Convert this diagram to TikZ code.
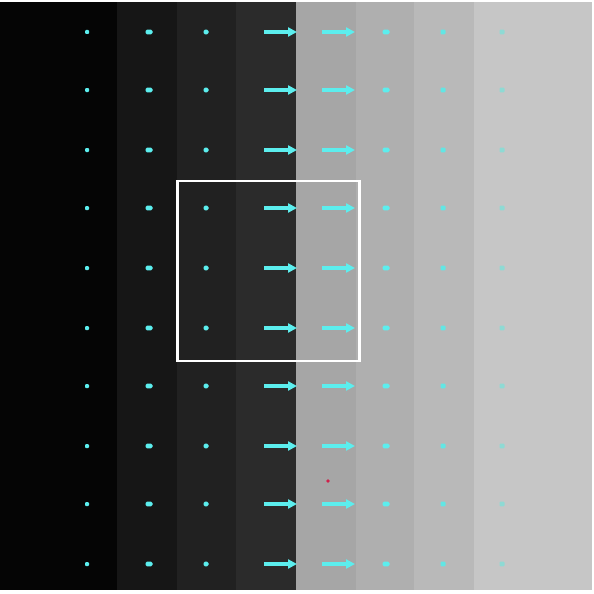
\documentclass[tikz,border=0pt]{standalone}
\usetikzlibrary{arrows.meta}
\definecolor{bA}{HTML}{050505}
\definecolor{bB}{HTML}{161616}
\definecolor{bC}{HTML}{212121}
\definecolor{bD}{HTML}{2B2B2B}
\definecolor{bE}{HTML}{A6A6A6}
\definecolor{bF}{HTML}{AFAFAF}
\definecolor{bG}{HTML}{B9B9B9}
\definecolor{bH}{HTML}{C6C6C6}
\definecolor{cy}{HTML}{5CEEEE}
\definecolor{cyB}{HTML}{62E6E4}
\definecolor{cyC}{HTML}{8EDAD4}
\definecolor{rd}{HTML}{D0204A}
\tikzset{
  vec/.style={cy, line width=3.5pt, -{Triangle[length=9pt,width=9pt]}},
}
\begin{document}
\begin{tikzpicture}[x=1pt,y=-1pt]
\useasboundingbox (0,0) rectangle (594,594);
\fill[white] (0,0) rectangle (594,594);
\fill[bA] (0,2) rectangle (117,590);
\fill[bB] (117,2) rectangle (177,590);
\fill[bC] (177,2) rectangle (236,590);
\fill[bD] (236,2) rectangle (296,590);
\fill[bE] (296,2) rectangle (356,590);
\fill[bF] (356,2) rectangle (414,590);
\fill[bG] (414,2) rectangle (474,590);
\fill[bH] (474,2) rectangle (592,590);
\foreach \y in {32,90,150,208,268,328,386,446,504,564}{
  \fill[cy, rounded corners=1pt] (85,\y-2) rectangle (89,\y+2);
  \fill[cy, rounded corners=1.5pt] (145.5,\y-2.3) rectangle (152.5,\y+2.3);
  \fill[cy, rounded corners=1.5pt] (203.5,\y-2.3) rectangle (208.5,\y+2.3);
  \draw[vec] (264,\y) -- (297,\y);
  \draw[vec] (322,\y) -- (355,\y);
  \fill[cy, rounded corners=1.5pt] (382.5,\y-2.3) rectangle (389.5,\y+2.3);
  \fill[cyB, rounded corners=1pt] (440.5,\y-2.3) rectangle (445.5,\y+2.3);
  \fill[cyC, rounded corners=1pt] (499.5,\y-2.3) rectangle (504.5,\y+2.3);
}
\draw[white, line width=2.5pt] (177.5,181) rectangle (359.5,361);
\fill[rd] (328,481) circle (1.8);
\end{tikzpicture}
\end{document}
